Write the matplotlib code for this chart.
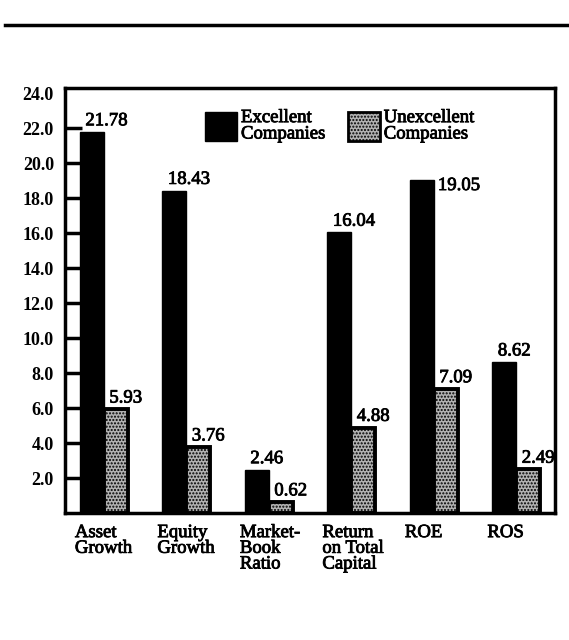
import matplotlib
matplotlib.use("Agg")
import matplotlib.pyplot as plt
import matplotlib.patheffects as pe
import numpy as np
from matplotlib.patches import Patch
from matplotlib.lines import Line2D

categories = ["Asset\nGrowth", "Equity\nGrowth", "Market-\nBook\nRatio",
              "Return\non Total\nCapital", "ROE", "ROS"]
excellent = [21.78, 18.43, 2.46, 16.04, 19.05, 8.62]
unexcellent = [5.93, 3.76, 0.62, 4.88, 7.09, 2.49]
yticks = [2.0, 4.0, 6.0, 8.0, 10.0, 12.0, 14.0, 16.0, 18.0, 20.0, 22.0]
ytop = 24.0

plt.rcParams['font.family'] = ['Liberation Serif', 'DejaVu Serif']
# slightly heavier strokes for the printed look
heavy = [pe.withStroke(linewidth=0.6, foreground='black')]

fig = plt.figure(figsize=(5.69, 6.4), dpi=100)
ax = fig.add_axes([65/569, 127/640, 490/569, 425/640])

x = np.arange(len(categories))
w = 0.29
grey = '#b2b2b2'
b1 = ax.bar(x - w/2, excellent, w, color='black', edgecolor='black', linewidth=1)
b2 = ax.bar(x + w/2, unexcellent, w, color=grey, edgecolor='black',
            linewidth=2.8, hatch='.....')

# value labels sit just above each bar, starting near its left edge
for bars, vals in ((b1, excellent), (b2, unexcellent)):
    for i, (r, v) in enumerate(zip(bars, vals)):
        if bars is b1 and categories[i] == "ROE":
            ax.annotate(f"{v:.2f}", (r.get_x() + r.get_width(), v),
                        xytext=(3, 2), textcoords='offset points',
                        ha='left', va='top', fontsize=13.5, path_effects=heavy)
        else:
            ax.annotate(f"{v:.2f}", (r.get_x(), v),
                        xytext=(4, 2), textcoords='offset points',
                        ha='left', va='bottom', fontsize=13.5, path_effects=heavy)

ax.set_xlim(-0.47, 5.47)
ax.set_ylim(0, 24.3)
ax.set_yticks(yticks, [f"{t:.1f}" for t in yticks], fontsize=13, fontweight='bold')
ax.set_yticks([ytop], [f"{ytop:.1f}"], minor=True, fontsize=13, fontweight='bold')
ax.tick_params(axis='y', which='major', direction='in', length=12, width=2.5, pad=8)
ax.tick_params(axis='y', which='minor', direction='in', length=0, pad=8)
ax.set_xticks(x - 0.35, categories, ha='left', fontsize=13.5, linespacing=0.9)
for t in ax.get_xticklabels():
    t.set_path_effects(heavy)
ax.tick_params(axis='x', length=0, pad=8)
for s in ax.spines.values():
    s.set_linewidth(2.5)

handles = [Patch(facecolor='black', edgecolor='black'),
           Patch(facecolor=grey, edgecolor='black', linewidth=2, hatch='.....')]
leg = ax.legend(handles, ["Excellent\nCompanies", "Unexcellent\nCompanies"], ncol=2,
                loc='upper left', bbox_to_anchor=(0.252, 0.99), frameon=False,
                prop={'size': 13.5}, handlelength=1.7, handleheight=2.0,
                handletextpad=0.2, columnspacing=1.2, labelspacing=0.2)
for t in leg.get_texts():
    t.set_path_effects(heavy)
    t.set_linespacing(0.95)

fig.add_artist(Line2D([5/569, 1.0], [1 - 25/640, 1 - 25/640], color='black', linewidth=2.5))

fig.savefig("out.png", dpi=100)
